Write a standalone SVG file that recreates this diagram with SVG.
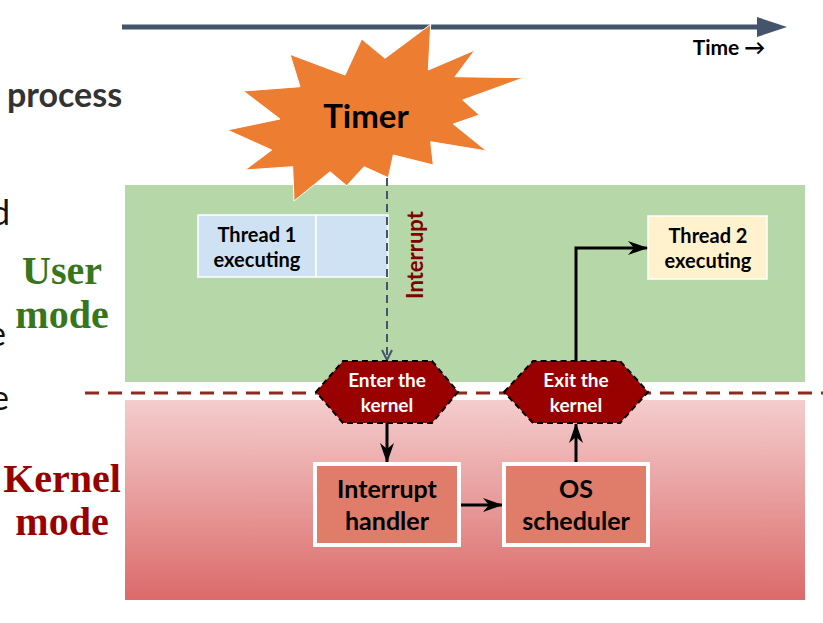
<svg xmlns="http://www.w3.org/2000/svg" width="823" height="623" viewBox="0 0 823 623">
<defs>
<linearGradient id="kgrad" x1="0" y1="0" x2="0" y2="1">
<stop offset="0" stop-color="#F4CDCD"/>
<stop offset="1" stop-color="#DC6A6A"/>
</linearGradient>
<marker id="ah" viewBox="0 0 20 14" refX="19" refY="7" markerWidth="20" markerHeight="14" markerUnits="userSpaceOnUse" orient="auto">
<path d="M0,0 L20,7 L0,14 L6,7 z" fill="#000"/>
</marker>
<marker id="ahd" viewBox="0 0 12 12" refX="11" refY="6" markerWidth="12" markerHeight="12" markerUnits="userSpaceOnUse" orient="auto">
<path d="M1,1 L11,6 L1,11" fill="none" stroke="#44546A" stroke-width="2"/>
</marker>
<marker id="ahT" viewBox="0 0 30 20" refX="0" refY="10" markerWidth="30" markerHeight="20" markerUnits="userSpaceOnUse" orient="auto">
<path d="M0,0 L30,10 L0,20 z" fill="#44546A"/>
</marker>
</defs>
<style>
.lab{font-family:Lato,"Liberation Sans",sans-serif;font-weight:bold;text-anchor:middle;}
.mode{font-family:"Liberation Serif",serif;font-weight:bold;font-size:40px;text-anchor:middle;}
.hex{fill:#990000;stroke:#000;stroke-width:2;stroke-dasharray:6 4;}
.kbox{fill:#DF7C6A;stroke:#fff;stroke-width:4;}
.conn{stroke:#000;stroke-width:3;fill:none;}
.frag{font-family:Lato,"Liberation Sans",sans-serif;font-size:34px;fill:#111;text-anchor:end;}
</style>

<!-- background regions -->
<rect id="user-region" x="125" y="185" width="680" height="197" fill="#B6D7A8"/>
<rect id="kernel-region" x="125" y="400" width="680" height="200" fill="url(#kgrad)"/>
<line x1="85" y1="393" x2="823" y2="393" stroke="#8C2A1E" stroke-width="3" stroke-dasharray="14 9"/>

<!-- clipped slide fragments -->
<text x="7" y="107" font-family="Lato,'Liberation Sans',sans-serif" font-weight="bold" font-size="34" fill="#333">process</text>
<text class="frag" x="10" y="225">d</text>
<text class="frag" x="6" y="346">e</text>
<text class="frag" x="9" y="410">e</text>

<!-- mode labels -->
<text class="mode" x="62" y="284" fill="#38761D">User</text>
<text class="mode" x="62" y="328" fill="#38761D">mode</text>
<text class="mode" x="62" y="492" fill="#990000">Kernel</text>
<text class="mode" x="62" y="535" fill="#990000">mode</text>

<!-- time axis -->
<g id="time-axis">
<line x1="122" y1="27" x2="757" y2="27" stroke="#44546A" stroke-width="5" marker-end="url(#ahT)"/>
<text class="lab" x="729" y="55" font-size="21" fill="#000">Time →</text>
</g>

<!-- timer -->
<g id="timer">
<polygon points="430.7,24.3 428.3,70 475,50 455,76.7 524,77.7 462.7,100 479.3,115 453.3,124 486.7,151 430.7,141.7 433.3,165 393.3,155 388.3,177.7 364,166.7 346.7,185.7 330,171.7 294,201 292.7,166.7 245,170 271.7,150 227.3,130 280,119 243.3,91 300,86.7 290,54.3 345,75 361.7,39 385,58.3" fill="#ED7D31" stroke="#fff" stroke-width="1"/>
<text class="lab" x="366" y="128" font-size="33" fill="#000">Timer</text>
</g>

<!-- thread 1 -->
<g id="thread1">
<rect x="198" y="215" width="118" height="62" fill="#CFE2F3" stroke="#fff" stroke-width="1.5"/>
<rect x="316" y="215" width="72" height="62" fill="#CFE2F3" stroke="#fff" stroke-width="1.5"/>
<text class="lab" x="257" y="242" font-size="20" fill="#000">Thread 1</text>
<text class="lab" x="257" y="267" font-size="20" fill="#000">executing</text>
</g>

<!-- thread 2 -->
<g id="thread2">
<rect x="648" y="216" width="119" height="63" fill="#FFF2CC" stroke="#fff" stroke-width="1.5"/>
<text class="lab" x="708" y="243" font-size="20" fill="#000">Thread 2</text>
<text class="lab" x="708" y="268" font-size="20" fill="#000">executing</text>
</g>

<!-- connectors -->
<g id="connectors">
<line x1="387" y1="178" x2="387" y2="360" stroke="#44546A" stroke-width="2" stroke-dasharray="8 5" marker-end="url(#ahd)"/>
<text class="lab" x="0" y="0" font-size="22" fill="#7F0000" transform="translate(423,255) rotate(-90)">Interrupt</text>
<line class="conn" x1="387" y1="423" x2="387" y2="462" marker-end="url(#ah)"/>
<line class="conn" x1="461" y1="505" x2="502" y2="505" marker-end="url(#ah)"/>
<line class="conn" x1="576" y1="462" x2="576" y2="424" marker-end="url(#ah)"/>
<polyline class="conn" points="576,361 576,248 647,248" marker-end="url(#ah)"/>
</g>

<!-- enter kernel -->
<g id="enter-kernel">
<polygon class="hex" points="316,392 343,361 432,361 458,392 432,423 343,423"/>
<text class="lab" x="387" y="387" font-size="19" fill="#fff">Enter the</text>
<text class="lab" x="387" y="412" font-size="19" fill="#fff">kernel</text>
</g>

<!-- exit kernel -->
<g id="exit-kernel">
<polygon class="hex" points="504,392 533,361 620,361 648,392 620,423 533,423"/>
<text class="lab" x="576" y="387" font-size="19" fill="#fff">Exit the</text>
<text class="lab" x="576" y="412" font-size="19" fill="#fff">kernel</text>
</g>

<!-- interrupt handler -->
<g id="interrupt-handler">
<rect class="kbox" x="315" y="464" width="144" height="81"/>
<text class="lab" x="387" y="498" font-size="25" fill="#000">Interrupt</text>
<text class="lab" x="387" y="530" font-size="25" fill="#000">handler</text>
</g>

<!-- os scheduler -->
<g id="os-scheduler">
<rect class="kbox" x="504" y="464" width="144" height="81"/>
<text class="lab" x="576" y="498" font-size="25" fill="#000">OS</text>
<text class="lab" x="576" y="530" font-size="25" fill="#000">scheduler</text>
</g>
</svg>
